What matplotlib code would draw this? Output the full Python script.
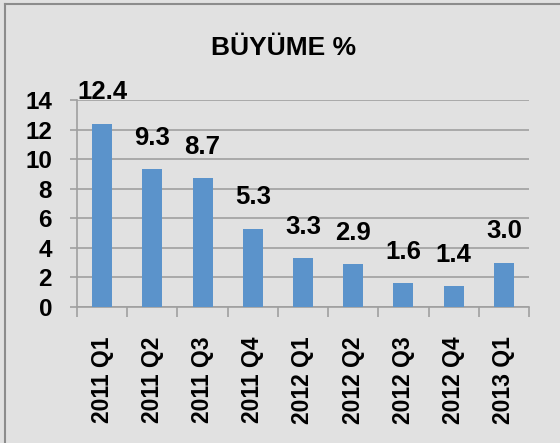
import matplotlib
matplotlib.use("Agg")
import matplotlib.pyplot as plt
from matplotlib.lines import Line2D

plt.rcParams["font.family"] = ["Liberation Sans", "DejaVu Sans"]
plt.rcParams["font.weight"] = "bold"

BG = "#e1e1e1"
BAR = "#5b93cb"
GRID = "#a0a0a0"

quarters = ["2011 Q1", "2011 Q2", "2011 Q3", "2011 Q4", "2012 Q1",
            "2012 Q2", "2012 Q3", "2012 Q4", "2013 Q1"]
growth = [12.4, 9.3, 8.7, 5.3, 3.3, 2.9, 1.6, 1.4, 3.0]

fig = plt.figure(figsize=(5.6, 4.43), dpi=100, facecolor=BG)
ax = fig.add_axes([77 / 560, 1 - 307 / 443, (529 - 77) / 560, (307 - 100) / 443])
ax.set_facecolor(BG)

x = range(len(quarters))
bars = ax.bar(x, growth, width=0.4, color=BAR, zorder=3)
for b, v in zip(bars, growth):
    ax.annotate(f"{v:.1f}", (b.get_x() + b.get_width() / 2, v),
                xytext=(0, 14), textcoords="offset points",
                ha="center", va="bottom", fontsize=18.5, fontweight="bold")

ax.set_xlim(-0.5, len(quarters) - 0.5)
ax.set_ylim(0, 14)
ax.set_yticks(range(0, 15, 2))
ax.tick_params(axis="y", direction="out", length=5, color=GRID, width=1.2,
               labelsize=17.5, pad=13)
ax.set_xticks([i - 0.5 for i in range(len(quarters) + 1)])
ax.set_xticklabels([])
ax.set_xticks(list(x), minor=True)
ax.set_xticklabels(quarters, minor=True, rotation=90, fontsize=16.5, fontweight="bold")
ax.tick_params(axis="x", which="major", direction="out", length=7, color=GRID, width=1.2)
ax.tick_params(axis="x", which="minor", length=0, pad=21)
for lbl in ax.get_yticklabels():
    lbl.set_fontweight("bold")

ax.grid(axis="y", color=GRID, linewidth=1.2, zorder=0)
for side in ["top", "right"]:
    ax.spines[side].set_visible(False)
for side in ["left", "bottom"]:
    ax.spines[side].set_color(GRID)
    ax.spines[side].set_linewidth(1.2)

fig.text(284 / 560, 1 - 48 / 443, "BÜYÜME %", ha="center", va="center",
         fontsize=19, fontweight="bold")

# outer chart border (left and top edges visible)
fig.add_artist(Line2D([5 / 560, 5 / 560], [0, 1 - 4 / 443], transform=fig.transFigure,
                      color="#8c8c8c", linewidth=1.5))
fig.add_artist(Line2D([5 / 560, 1], [1 - 4 / 443, 1 - 4 / 443], transform=fig.transFigure,
                      color="#8c8c8c", linewidth=1.5))

fig.savefig("out.png", dpi=100, facecolor=BG)
